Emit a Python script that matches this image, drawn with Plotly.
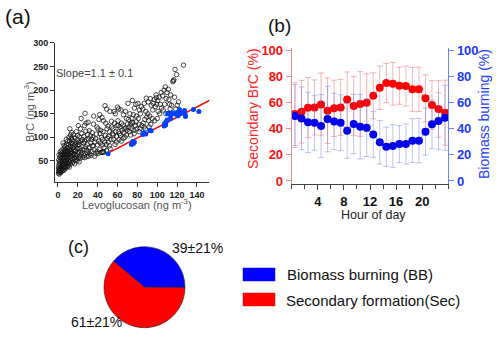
import plotly.graph_objects as go

# (a) ambient samples: levoglucosan vs BrC (ng m-3)
ambient = [
    (0.5,24),(0.8,28),(1.2,22),(1.0,31),(1.5,26),(0.6,35),(1.8,33),(2.1,29),(0.9,40),(2.4,37),
    (1.3,44),(2.8,25),(3.0,31),(2.6,42),(1.6,48),(3.3,35),(3.6,28),(0.7,52),(2.2,50),(3.9,39),
    (4.2,33),(4.5,45),(3.1,55),(1.9,58),(4.8,30),(4.0,50),(2.7,62),(4.6,57),(3.5,66),(4.9,40),
    (1.1,63),(5.0,70),(3.8,73),(2.3,69),(4.3,63),
    (5.3,35),(5.6,42),(5.9,30),(6.2,48),(6.5,38),(6.8,55),(7.1,33),(7.4,44),(7.7,60),(8.0,36),
    (8.3,51),(8.6,41),(8.9,66),(9.2,47),(9.5,38),(9.8,57),(5.4,62),(6.0,75),(6.7,68),(7.3,80),
    (7.9,72),(8.5,85),(9.1,77),(9.7,92),(5.8,52),(6.4,58),(7.0,64),(7.6,49),(8.2,70),(8.8,58),
    (9.4,64),(10.0,44),(6.1,83),(8.4,96),(9.9,70),(5.1,88),
    (10.3,40),(10.6,52),(10.9,63),(11.2,47),(11.5,74),(11.8,58),(12.1,43),(12.4,81),(12.7,66),
    (13.0,50),(13.3,88),(13.6,71),(13.9,56),(14.2,95),(14.5,62),(14.8,78),(10.5,85),(11.0,100),
    (11.7,92),(12.5,105),(13.2,60),(13.8,110),(14.4,46),(14.9,86),(10.2,69),(11.4,37),(12.9,74),
    (13.5,98),(14.1,68),(12.0,118),(15.0,53),(10.8,79),
    (15.4,48),(15.8,65),(16.2,82),(16.6,57),(17.0,99),(17.4,70),(17.8,52),(18.2,88),(18.6,112),
    (19.0,62),(19.4,76),(19.8,95),(15.6,106),(17.2,64),(17.6,84),(18.4,58),
    (19.6,104),(16.0,73),(19.2,50),(15.2,92),(16.8,44),(18.0,72),(19.9,83),
    (20.3,55),(20.7,68),(21.1,85),(21.5,101),(21.9,60),(22.3,76),(22.7,118),(23.1,92),(23.5,64),
    (23.9,108),(24.3,80),(20.5,125),(21.3,48),(22.9,71),(24.5,95),
    (20.9,90),(22.5,56),(24.0,68),(23.3,140),(24.9,58),
    (25.3,74),(25.7,88),(26.1,102),(26.5,62),(26.9,125),(27.3,151),(27.7,80),(28.1,113),(28.5,95),
    (29.3,67),(29.7,106),(27.1,57),(28.3,130),(29.5,84),
    (26.7,92),(28.7,73),(29.1,60),
    (30.4,132),(30.8,97),(31.2,78),(31.6,114),(32.0,65),(32.8,103),(33.2,88),
    (34.0,70),(34.4,110),(31.0,60),(33.8,96),(34.6,82),
    (30.6,71),(33.4,62),
    (35.3,100),(35.8,128),(36.3,74),(37.3,90),(38.3,66),(38.8,107),(39.3,122),
    (39.8,84),(36.0,145),(37.0,60),(38.0,97),(35.6,82),(39.6,70),
    (40.3,118),(40.8,92),(41.3,138),(41.8,74),(42.3,108),(43.3,68),(43.8,100),(44.3,142),
    (44.8,84),(42.0,148),(43.0,115),(45.0,96),(40.5,66),(42.6,88),
    (45.4,112),(45.9,135),(46.4,78),(47.4,167),(47.9,104),(48.9,72),(49.4,118),
    (49.9,98),(47.1,90),(48.1,130),(49.1,160),(45.6,70),(48.6,85),
    (44.6,68),(46.0,68),
    (50.4,124),(50.9,102),(51.9,82),(52.4,155),(53.4,95),(53.9,134),
    (54.9,108),(52.6,76),(54.2,122),(50.7,90),(52.0,112),
    (55.5,118),(56.0,96),(56.5,155),(57.0,130),(57.5,85),(58.0,112),(59.0,102),(59.5,125),
    (60.0,164),(57.8,150),(58.8,90),(55.8,105),
    (60.5,135),(61.0,112),(61.5,95),(62.5,122),(63.0,104),(63.5,158),(64.0,130),(64.5,115),
    (61.2,160),(63.8,92),(60.8,125),(62.2,108),
    (65.5,126),(66.0,148),(66.5,110),(67.5,100),(68.0,155),(68.5,120),(69.0,140),(69.5,115),
    (70.0,128),(68.8,105),(66.8,118),(65.8,98),
    (70.5,172),(71.0,138),(71.5,122),(72.0,112),(72.5,150),(73.0,128),(74.0,118),(74.5,140),
    (75.0,178),(73.2,105),(74.8,132),
    (75.5,130),(76.0,148),(76.5,115),(77.0,162),(78.0,125),(78.5,170),(79.0,145),(79.5,118),
    (76.8,108),(78.8,133),
    (80.5,172),(81.0,140),(81.5,128),(82.0,158),(82.5,118),(83.0,150),(84.0,165),(84.5,125),
    (81.8,112),
    (85.5,160),(86.0,130),(87.0,172),(87.5,138),(88.0,118),(88.5,155),(89.0,183),(89.5,143),
    (86.8,122),
    (90.5,150),(91.0,175),(91.5,135),(92.5,145),(93.0,182),(93.5,128),(94.0,168),
    (95.0,140),(91.8,122),
    (95.5,158),(96.0,172),(97.0,180),(97.5,135),(98.0,165),(99.0,184),(99.5,170),
    (100.0,140),(98.8,190),
    (100.5,178),(101.0,155),(102.0,185),(102.5,150),(103.0,170),(104.0,195),
    (104.5,162),
    (105.5,188),(106.0,158),(106.8,200),(107.5,170),(108.2,207),(109.0,182),(109.8,195),
    (111.2,202),(108.8,150),(111.8,180),
    (112.5,170),(113.5,190),(114.5,168),(115.8,218),(116.2,220),(116.8,222),(117.5,185),(118.0,244),
    (119.5,233),(120.2,168),(121.5,175),(126.5,253),(113.0,160),(118.8,160),
]
levo_all = [p[0] for p in ambient]
brc_all = [p[1] for p in ambient]

# biomass-burning dominated samples (blue filled)
levo_bb = [50.5, 74, 75, 76, 75.5, 77, 85.5, 86.5, 88.5, 92.5, 94, 107, 108.5, 109, 110, 110.5,
           112, 113.5, 115, 117, 119, 120.5, 121, 122.5, 124, 127.5, 128, 128.5, 136.5, 142, 113.5, 107.5]
brc_bb = [65, 85, 88, 87, 91, 90, 106, 110, 107, 115, 114, 124, 126, 133, 137, 150,
          151, 147, 152, 150, 149, 153, 146, 159, 151, 157, 149, 144, 159, 155, 140, 130]

# fitted line, slope 1.1
fit_x = [50, 155]
fit_y = [66, 181]

# (b) diurnal contributions
hours = [0.5, 1.5, 2.5, 3.5, 4.5, 5.5, 6.5, 7.5, 8.5, 9.5, 10.5, 11.5,
         12.5, 13.5, 14.5, 15.5, 16.5, 17.5, 18.5, 19.5, 20.5, 21.5, 22.5, 23.5]
sec_pct = [51.1, 52.9, 56.0, 56.2, 58.5, 53.7, 55.5, 56.2, 62.3, 57.3, 58.8, 59.8,
           65.1, 71.2, 74.8, 74.3, 72.8, 72.5, 70.0, 70.0, 63.1, 58.0, 55.0, 52.2]
bb_pct = [49.6, 47.8, 44.8, 44.5, 42.0, 47.3, 45.5, 44.5, 38.4, 43.5, 41.5, 40.7,
          35.6, 29.5, 26.2, 26.7, 28.2, 28.2, 30.8, 30.8, 37.7, 43.3, 45.8, 48.3]
pct_err = [24, 24, 23, 21, 24, 25, 21.5, 21.4, 21, 22.7, 24.7, 22,
           17.6, 16.6, 15, 16.3, 14.2, 15.3, 16.8, 17, 18, 18.6, 21.6, 24.8]
hour_ticks = [4, 8, 12, 16, 20]

# (c) source apportionment
pie_labels = ["Biomass burning (BB)", "Secondary formation(Sec)"]
pie_values = [39, 61]
pie_colors = ["#0000ff", "#ff0000"]

FONT = "Liberation Sans, Arial, sans-serif"
W, H = 500, 337

def px(x):
    return x / W

def py(y):
    return 1 - y / H

fig = go.Figure()

fig.add_trace(go.Scatter(x=levo_all, y=brc_all, mode="markers", xaxis="x", yaxis="y",
                         marker=dict(symbol="circle-open", size=4.5, color="#111",
                                     line=dict(width=0.75)),
                         showlegend=False, hoverinfo="skip"))
fig.add_trace(go.Scatter(x=fit_x, y=fit_y, mode="lines", xaxis="x", yaxis="y",
                         line=dict(color="#ff0000", width=1.5), showlegend=False))
fig.add_trace(go.Scatter(x=levo_bb, y=brc_bb, mode="markers", xaxis="x", yaxis="y",
                         marker=dict(size=5, color="#0040ff"), showlegend=False))

fig.add_trace(go.Scatter(x=hours, y=sec_pct, mode="lines+markers", xaxis="x2", yaxis="y2",
                         marker=dict(size=8, color="#ff0000"),
                         line=dict(color="rgba(255,80,80,0.6)", width=1),
                         error_y=dict(type="data", array=pct_err, color="rgba(240,90,90,0.45)",
                                      thickness=1, width=3),
                         showlegend=False))
fig.add_trace(go.Scatter(x=hours, y=bb_pct, mode="lines+markers", xaxis="x2", yaxis="y3",
                         marker=dict(size=8, color="#0000ee"),
                         line=dict(color="rgba(80,80,255,0.6)", width=1),
                         error_y=dict(type="data", array=pct_err, color="rgba(90,110,240,0.4)",
                                      thickness=1, width=3),
                         showlegend=False))

fig.add_trace(go.Pie(labels=pie_labels, values=pie_values, sort=False,
                     direction="counterclockwise", rotation=-50,
                     marker=dict(colors=pie_colors, line=dict(color="#222", width=0.6)),
                     textinfo="none", hoverinfo="skip", showlegend=False,
                     domain=dict(x=[px(104), px(185)], y=[py(327.7), py(246.7)])))

axis_a = dict(showgrid=False, zeroline=False, showline=True, linecolor="#333", linewidth=1,
              ticks="outside", ticklen=4, tickcolor="#333",
              tickfont=dict(family=FONT, size=9, color="#222", weight="bold"))
fig.update_layout(
    xaxis=dict(axis_a, domain=[px(55), px(209.3)], range=[-3, 152.5], anchor="y",
               tickvals=[0, 20, 40, 60, 80, 100, 120, 140]),
    yaxis=dict(axis_a, domain=[py(181.7), py(42.5)], range=[6, 301], anchor="x",
               tickvals=[50, 100, 150, 200, 250, 300]),
    xaxis2=dict(domain=[px(291.7), px(448.3)], range=[0, 24], anchor="y2",
                showgrid=False, zeroline=False, showline=True, linecolor="#444",
                ticks="outside", ticklen=5, tickcolor="#444", tickvals=hour_ticks,
                minor=dict(dtick=2, tick0=0, ticks="outside", ticklen=4, tickcolor="#444"),
                tickfont=dict(family=FONT, size=13, color="#111", weight="bold")),
    yaxis2=dict(domain=[py(184), py(47.7)], range=[-2.3, 101.8], anchor="x2",
                showgrid=False, zeroline=False, showline=True, linecolor="#f08a8a",
                ticks="outside", ticklen=5, tickcolor="#f08a8a",
                tickvals=[0, 20, 40, 60, 80, 100],
                tickfont=dict(family=FONT, size=13, color="#ff1010", weight="bold")),
    yaxis3=dict(domain=[py(184), py(47.7)], range=[-2.3, 101.8], anchor="x2",
                overlaying="y2", side="right",
                showgrid=False, zeroline=False, showline=True, linecolor="#6688ff",
                ticks="outside", ticklen=5, tickcolor="#6688ff",
                tickvals=[0, 20, 40, 60, 80, 100],
                tickfont=dict(family=FONT, size=13, color="#1a3cff", weight="bold")),
    width=W, height=H, margin=dict(l=0, r=0, t=0, b=0, pad=0, autoexpand=False),
    paper_bgcolor="white", plot_bgcolor="white",
    font=dict(family=FONT),
)

def note(text, x, y, size, color="#111", angle=0, xanchor="center"):
    fig.add_annotation(text=text, x=px(x), y=py(y), xref="paper", yref="paper",
                       xanchor=xanchor, yanchor="middle",
                       showarrow=False, textangle=angle,
                       font=dict(family=FONT, size=size, color=color))

note("(a)", 18, 17, 21)
note("(b)", 279, 25, 19)
note("(c)", 78, 247, 18)
note("Slope=1.1 ± 0.1", 94, 73, 11, "#444")
note("Levoglucosan (ng m<sup>-3</sup>)", 137, 204, 11, "#555")
note("BrC (ng m<sup>-3</sup>)", 29, 112, 11, "#555", -90)
note("Secondary BrC (%)", 253, 109, 14, "#ff2020", -90)
note("Biomass burning (%)", 484, 114, 14, "#2040ff", -90)
note("Hour of day", 373, 215, 12.5, "#222")
note("39±21%", 197, 248, 14)
note("61±21%", 96, 322, 14)

# legend for (c)
for top, col in [(268, "#0000ff"), (293, "#ff0000")]:
    fig.add_shape(type="rect", xref="paper", yref="paper",
                  x0=px(243), x1=px(275), y0=py(top + 13), y1=py(top),
                  fillcolor=col, line=dict(color=col, width=0.5))
note(pie_labels[0], 285, 274.5, 15, xanchor="left")
note(pie_labels[1], 284, 300, 15, xanchor="left")

fig.write_html("out.html", config={"displayModeBar": False},
               post_script="document.body.style.margin='0';")
